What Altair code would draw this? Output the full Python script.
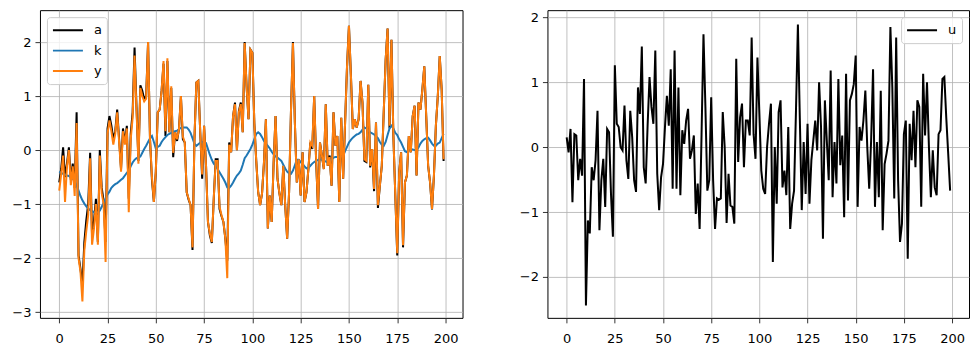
import altair as alt
import pandas as pd

t = list(range(200))

a = [-0.60, -0.35, 0.05, -0.50, -0.25, 0.05, -0.55, -0.25, -0.70, 0.70,
     -1.95, -2.20, -2.50, -1.70, -1.30, -1.00, -0.05, -1.60, -1.30, -0.90,
     -1.70, 0.00, -0.70, -0.95, -1.70, 0.40, 0.63, 0.45, 0.20, 0.35,
     0.75, 0.20, -0.35, 0.40, 0.14, 0.45, -0.90, 0.30, 0.70, 1.90,
     0.80, -0.20, 1.20, 1.10, 0.94, 1.00, 2.00, 0.20, -0.55, -0.96,
     -0.40, 0.70, 0.75, 1.10, 1.60, 0.26, 1.65, 0.33, 1.15, -0.13,
     0.33, 0.17, 0.39, 1.00, 0.20, 0.14, -0.78, -0.92, -1.02, -1.85,
     0.20, 1.25, 1.28, 0.33, -0.53, 0.45, -0.29, -1.33, -1.58, -1.72,
     -0.90, -0.17, -0.17, -1.09, -1.22, -1.33, -1.64, -2.05, 0.14, -0.04,
     0.63, 0.88, 0.00, 0.72, 0.88, 0.33, 2.00, 1.18, 0.57, 1.86,
     1.80, 0.50, -0.20, -0.78, -1.02, -0.80, -0.23, 0.57, -1.45, -0.84,
     -1.33, -0.23, 0.63, -0.53, -0.80, -1.02, -0.29, -1.02, -1.64, -0.78,
     0.75, 2.00, 0.51, -0.60, -0.17, -0.84, -0.04, -0.96, -0.78, -0.35,
     0.14, 0.02, 1.00, -0.20, -1.09, 0.14, -0.10, -0.35, 0.85, -0.29,
     -0.10, -0.66, 0.70, 0.08, 0.26, -0.96, 0.60, -0.53, 0.51, 1.55,
     2.30, 1.40, 0.39, 0.57, 0.42, 0.57, 1.28, 0.88, -0.20, -0.22,
     1.21, -0.32, 0.02, -0.76, 0.51, -1.07, -0.66, -0.29, 0.70, 1.67,
     2.25, 0.40, 2.04, 0.26, -0.84, -1.95, -0.41, -0.04, -1.80, -0.60,
     -0.47, 0.26, -0.04, 0.63, 0.82, -0.47, 0.88, 0.75, 1.12, 1.55,
     0.63, -0.29, -0.60, -1.10, -0.47, 0.45, 1.00, 1.74, 1.12, -0.20]

k = [-0.40, -0.42, -0.44, -0.45, -0.47, -0.48, -0.50, -0.53, -0.58, -0.65,
     -0.75, -0.85, -0.93, -0.99, -1.04, -1.08, -1.11, -1.13, -1.15, -1.16,
     -1.15, -1.12, -1.05, -0.98, -0.90, -0.82, -0.77, -0.70, -0.66, -0.63,
     -0.61, -0.58, -0.55, -0.52, -0.47, -0.42, -0.38, -0.30, -0.23, -0.18,
     -0.15, -0.14, -0.12, -0.05, 0.02, 0.08, 0.15, 0.22, 0.26, 0.15,
     0.03, 0.06, 0.08, 0.15, 0.20, 0.24, 0.28, 0.30, 0.32, 0.34,
     0.35, 0.36, 0.39, 0.41, 0.42, 0.42, 0.42, 0.38, 0.32, 0.22,
     0.12, 0.08, 0.11, 0.14, 0.15, 0.14, 0.13, 0.02, -0.09, -0.18,
     -0.25, -0.29, -0.35, -0.41, -0.47, -0.53, -0.60, -0.69, -0.70, -0.66,
     -0.60, -0.53, -0.47, -0.43, -0.38, -0.27, -0.15, -0.10, -0.04, 0.02,
     0.10, 0.20, 0.30, 0.33, 0.30, 0.24, 0.17, 0.12, 0.08, 0.03,
     -0.03, -0.08, -0.12, -0.14, -0.17, -0.20, -0.27, -0.34, -0.40, -0.43,
     -0.44, -0.38, -0.28, -0.18, -0.18, -0.22, -0.26, -0.30, -0.34, -0.33,
     -0.29, -0.25, -0.22, -0.20, -0.18, -0.17, -0.18, -0.20, -0.21, -0.23,
     -0.22, -0.17, -0.14, -0.13, -0.13, -0.13, -0.12, -0.10, -0.02, 0.06,
     0.14, 0.19, 0.23, 0.26, 0.29, 0.30, 0.33, 0.38, 0.42, 0.40,
     0.36, 0.33, 0.31, 0.29, 0.25, 0.22, 0.15, 0.10, 0.08, 0.15,
     0.28, 0.40, 0.45, 0.40, 0.32, 0.28, 0.20, 0.14, 0.06, -0.02,
     -0.04, 0.00, 0.02, 0.01, 0.00, 0.00, 0.05, 0.12, 0.17, 0.20,
     0.22, 0.23, 0.18, 0.12, 0.08, 0.08, 0.12, 0.14, 0.22, 0.30]

y = [-0.75, -0.45, -0.10, -0.96, -0.30, 0.00, -0.65, -0.30, -0.85, 0.50,
     -2.00, -2.25, -2.80, -1.85, -1.50, -1.20, -0.15, -1.75, -1.45, -1.00,
     -1.75, -0.10, -0.80, -1.00, -2.07, 0.30, 0.55, 0.35, 0.10, 0.30,
     0.70, 0.15, -0.40, 0.35, 0.10, 0.40, -1.15, 0.20, 0.60, 1.75,
     0.75, -0.25, 1.15, 1.00, 0.90, 0.95, 2.00, 0.20, -0.50, -0.96,
     -0.40, 0.70, 0.75, 1.10, 1.65, 0.35, 1.70, 0.33, 1.18, -0.05,
     0.33, 0.20, 0.39, 1.00, 0.25, 0.14, -0.78, -0.90, -1.02, -1.80,
     0.20, 1.25, 1.28, 0.33, -0.45, 0.45, -0.29, -1.33, -1.55, -1.70,
     -0.90, -0.20, -0.20, -1.05, -1.20, -1.33, -1.64, -2.37, 0.10, -0.04,
     0.63, 0.85, 0.00, 0.70, 0.85, 0.33, 1.98, 1.18, 0.57, 1.86,
     1.80, 0.50, -0.20, -0.78, -1.02, -0.80, -0.23, 0.57, -1.45, -0.84,
     -1.33, -0.23, 0.63, -0.53, -0.80, -1.02, -0.29, -1.02, -1.64, -0.78,
     0.75, 1.98, 0.51, -0.60, -0.17, -0.84, -0.04, -0.96, -0.78, -0.35,
     0.14, 0.08, 1.00, -0.17, -1.09, 0.14, -0.10, -0.35, 0.85, -0.29,
     -0.13, -0.66, 0.70, 0.08, 0.26, -0.96, 0.60, -0.53, 0.51, 1.55,
     2.30, 1.40, 0.39, 0.57, 0.42, 0.57, 1.28, 0.88, -0.17, -0.20,
     1.21, -0.29, 0.02, -0.72, 0.51, -1.02, -0.66, -0.29, 0.70, 1.67,
     2.25, 0.45, 2.04, 0.26, -0.84, -1.91, -0.41, -0.04, -1.76, -0.60,
     -0.47, 0.26, -0.04, 0.63, 0.82, -0.47, 0.88, 0.75, 1.12, 1.55,
     0.63, -0.29, -0.60, -1.09, -0.47, 0.45, 1.00, 1.74, 1.12, -0.17]

u = [0.15, -0.08, 0.28, -0.85, 0.20, 0.18, -0.51, -0.18, -0.44, 1.05,
     -2.44, -1.13, -1.33, -0.31, -0.51, -0.20, 0.56, -1.28, -0.51, -0.18,
     -0.92, 0.28, 0.23, -0.72, -1.38, 1.26, 0.36, 0.31, 0.00, -0.05,
     0.64, -0.20, -0.49, 0.56, 0.15, -0.51, -0.69, 0.92, 0.51, 1.55,
     -0.31, -0.56, 0.33, 1.08, 0.62, 0.36, 1.49, -0.41, -0.97, -0.46,
     -0.26, 0.30, 0.79, 0.33, 1.20, -0.64, 1.49, -0.64, 0.92, -0.74,
     0.26, 0.05, 0.41, 0.59, -0.18, -0.05, 0.18, -1.03, -0.56, -1.26,
     0.20, 1.74, 0.62, -0.67, -0.51, 0.77, -0.51, -1.26, -0.79, -0.81,
     -0.79, 0.54, 0.00, -1.17, -0.41, -0.90, -0.92, -1.18, 1.36, -0.23,
     0.46, 0.67, -0.31, 0.41, 0.41, 0.18, 1.69, 0.20, -0.18, 1.38,
     0.51, -0.36, -0.64, -0.72, 0.00, 0.36, 0.67, -1.77, 0.00, -0.87,
     0.54, 0.72, -0.62, -0.36, -0.74, 0.31, -1.26, -0.87, -0.67, 0.56,
     1.89, 0.44, -0.97, 0.08, -0.72, 0.36, -0.87, -0.20, 0.10, 0.41,
     -0.05, 1.00, 0.31, -1.41, 0.72, 0.10, -0.51, 1.18, -0.77, 0.08,
     -0.56, 1.05, -0.28, 0.18, -1.08, 1.13, -0.82, 0.72, 0.82, 0.97,
     1.41, -0.92, 0.31, 0.10, 0.41, 0.87, 0.00, -0.64, 0.10, 1.20,
     -0.92, 0.08, -0.77, 0.87, -1.28, -0.26, -0.10, 0.10, 1.85, 0.92,
     -0.79, 1.69, -0.51, -1.46, -1.18, 0.20, 0.41, -1.72, 0.36, -0.20,
     0.56, -0.31, 0.72, 0.62, -0.92, 1.13, 0.18, 1.00, 0.00, -0.77,
     -0.05, -0.62, -0.74, 0.20, 0.26, 1.05, 1.08, 0.45, -0.10, -0.67]

left_names = ["a", "k", "y"]
left_colors = ["#000000", "#1f77b4", "#ff7f0e"]
x_ticks = [0, 25, 50, 75, 100, 125, 150, 175, 200]
left_y_ticks = [-3, -2, -1, 0, 1, 2]
right_y_ticks = [-2, -1, 0, 1, 2]

left_df = pd.DataFrame({
    "t": t * 3,
    "v": a + k + y,
    "s": ["a"] * 200 + ["k"] * 200 + ["y"] * 200,
})
right_df = pd.DataFrame({"t": t, "v": u, "s": ["u"] * 200})

FONT = "DejaVu Sans"

legend_common = dict(
    title=None,
    symbolType="stroke",
    symbolSize=900,
    symbolStrokeWidth=2,
    labelFont=FONT,
    labelFontSize=13,
    labelColor="black",
    labelOffset=10,
    fillColor="rgba(255,255,255,0.8)",
    strokeColor="#cccccc",
    cornerRadius=3,
    padding=5,
    rowPadding=4.5,
    clipHeight=16,
    offset=7,
)

x_enc = alt.X("t:Q", scale=alt.Scale(domain=[-9.98, 208.8], nice=False, zero=False),
              axis=alt.Axis(values=x_ticks, title=None, labelPadding=10))

left_color = alt.Color("s:N",
                       scale=alt.Scale(domain=left_names, range=left_colors),
                       legend=alt.Legend(orient="top-left", **legend_common))
left_y = alt.Y("v:Q", scale=alt.Scale(domain=[-3.105, 2.59], nice=False, zero=False),
               axis=alt.Axis(values=left_y_ticks, title=None))


def series_line(name):
    return (alt.Chart(left_df)
            .transform_filter(alt.datum.s == name)
            .mark_line(strokeWidth=2)
            .encode(x=x_enc, y=left_y, color=left_color))


left = alt.layer(*[series_line(n) for n in left_names]).properties(width=423, height=308)

right = (alt.Chart(right_df)
         .mark_line(strokeWidth=2)
         .encode(
             x=x_enc,
             y=alt.Y("v:Q", scale=alt.Scale(domain=[-2.63, 2.11], nice=False, zero=False),
                     axis=alt.Axis(values=right_y_ticks, title=None)),
             color=alt.Color("s:N", scale=alt.Scale(domain=["u"], range=["#000000"]),
                             legend=alt.Legend(orient="top-right", **legend_common)),
         )
         .properties(width=422, height=308))

chart = (alt.hconcat(left, right, spacing=85, bounds="flush")
         .resolve_scale(color="independent")
         .resolve_legend(color="independent")
         .properties(padding={"left": 11, "top": 9, "right": 10, "bottom": 0},
                     background="white")
         .configure_view(stroke="black", strokeWidth=1)
         .configure_axis(
             labelFont=FONT, labelFontSize=13, labelColor="black",
             tickColor="black", tickSize=5, tickWidth=0.8,
             labelPadding=4, domain=False,
             grid=True, gridColor="#b0b0b0", gridWidth=0.8,
         ))

chart.save("out.html", embed_options={"renderer": "svg", "actions": False})
